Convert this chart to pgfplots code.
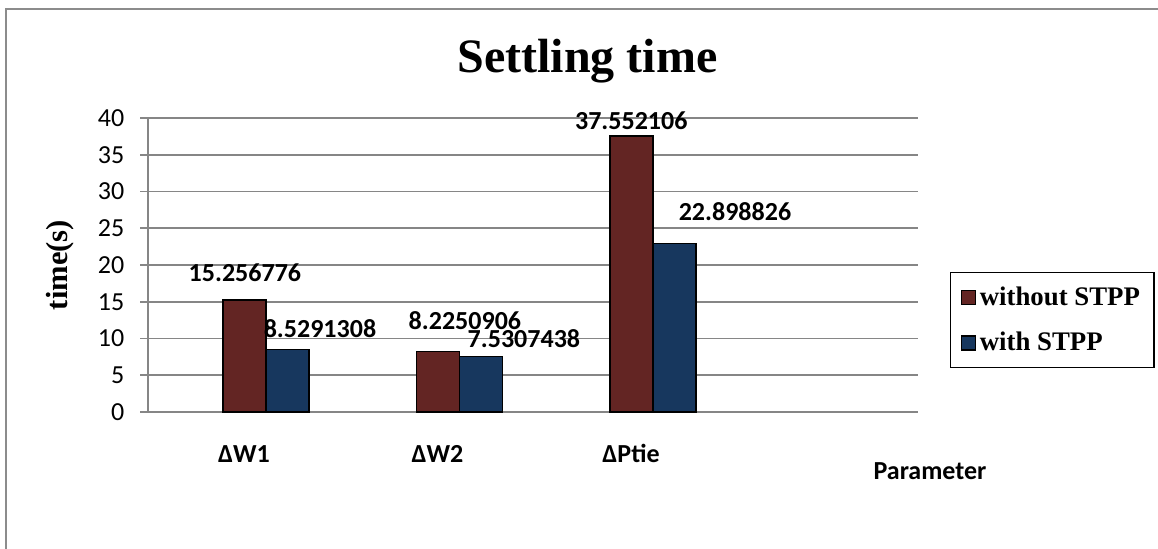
\documentclass[border=0pt]{standalone}
\usepackage{pgfplots}
\pgfplotsset{compat=1.18}
\usepackage{fontspec}
\setmainfont{Liberation Serif}
\newfontfamily\calib{Carlito}
\definecolor{barred}{RGB}{99,37,35}
\definecolor{barblue}{RGB}{23,55,94}
\definecolor{axgray}{RGB}{134,134,134}
\definecolor{bordergray}{RGB}{140,140,140}
\begin{document}
\begin{tikzpicture}
\useasboundingbox (0,0) rectangle (579pt,274.5pt);
\draw[bordergray, line width=1.2pt] (3pt,-5pt) -- (3pt,270pt) -- (590pt,270pt);
\begin{axis}[
  at={(74pt,68.5pt)}, anchor=south west,
  scale only axis, width=385pt, height=147pt,
  ybar=0pt, bar width=21.5pt,
  xmin=-0.61, xmax=3.37, ymin=0, ymax=40,
  axis lines*=left,
  axis line style={axgray, line width=0.8pt},
  ytick={0,5,...,40},
  xtick={0,1,2},
  xticklabels={ΔW1,ΔW2,ΔPtie},
  x tick style={draw=none},
  y tick style={axgray, line width=0.8pt},
  tick align=outside, major tick length=4pt,
  ymajorgrids, grid style={axgray, line width=0.8pt},
  /pgf/number format/assume math mode=true,
  yticklabel style={font=\calib\fontsize{13}{15}\selectfont, xshift=-4.3pt},
  xticklabel style={font=\calib\bfseries\fontsize{13}{15}\selectfont, anchor=base, xshift=-11pt, yshift=-21.5pt},
  legend style={at={(1.0416,0.476)}, anchor=north west, draw=black, line width=0.6pt,
    font=\bfseries\fontsize{13.4}{15}\selectfont, inner xsep=5pt, inner ysep=5pt,
    row sep=8pt, cells={anchor=west}},
  legend image code/.code={\draw[#1, draw=black, line width=0.6pt] (1.5pt,-3.5pt) rectangle (8.5pt,3.5pt);},
  legend cell align=left,
  clip=false,
]
\addplot[fill=barred, draw=black, line width=0.7pt] coordinates {(0,15.256776) (1,8.2250906) (2,37.552106)};
\addplot[fill=barblue, draw=black, line width=0.7pt] coordinates {(0,8.5291308) (1,7.5307438) (2,22.898826)};
\legend{without STPP, with STPP}
\begin{scope}[every node/.style={anchor=base, font=\calib\bfseries\fontsize{13}{15}\selectfont, inner sep=0pt}]
\node at (axis cs:-0.109,17.69) {15.256776};
\node at (axis cs:0.279,10.20) {8.5291308};
\node at (axis cs:1.028,11.16) {8.2250906};
\node at (axis cs:1.333,8.71) {7.5307438};
\node at (axis cs:1.888,38.37) {37.552106};
\node at (axis cs:2.424,26.12) {22.898826};
\end{scope}
\end{axis}
\node[anchor=base, font=\bfseries\fontsize{24}{28}\selectfont, inner sep=0pt] at (293.75pt,238pt) {Settling time};
\node[rotate=90, font=\bfseries\fontsize{15.3}{18}\selectfont, inner sep=0pt] at (30pt,142pt) {time(s)};
\node[anchor=base, font=\calib\bfseries\fontsize{13}{15}\selectfont, inner sep=0pt] at (465pt,34.5pt) {Parameter};
\end{tikzpicture}
\end{document}
